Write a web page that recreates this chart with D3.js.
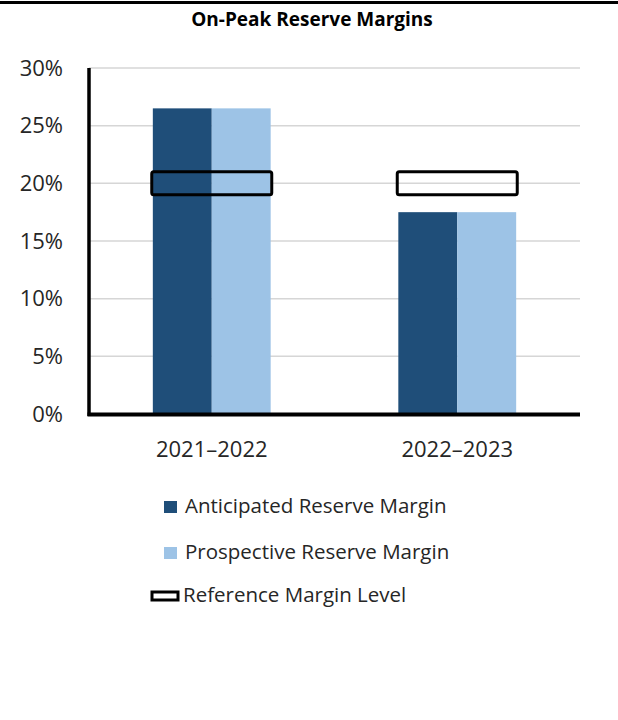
<!DOCTYPE html>
<html>
<head>
<meta charset="utf-8">
<script src="https://cdn.jsdelivr.net/npm/d3@7"></script>
<style>
  body { margin: 0; background: #fff; }
  svg { display: block; }
  svg text { font-family: "Open Sans", sans-serif; }
</style>
</head>
<body>
<svg id="chart" width="618" height="720"></svg>
<script>
var years = ['2021\u20132022', '2022\u20132023'];
var anticipated = [26.5, 17.5];
var prospective = [26.5, 17.5];
var referenceLevel = [20, 20];
var yTicks = [0, 5, 10, 15, 20, 25, 30];
var seriesNames = ['Anticipated Reserve Margin', 'Prospective Reserve Margin', 'Reference Margin Level'];

var dark = '#1f4e79', light = '#9dc3e6', textColor = '#262626';

var svg = d3.select('#chart');
var plotLeft = 89, plotRight = 580, plotTop = 68, plotBottom = 414;

var x = d3.scaleBand().domain(years).range([plotLeft, plotRight]).padding(0);
var y = d3.scaleLinear().domain([0, 30]).range([plotBottom, plotTop]);
var barW = x.bandwidth() * 0.24;

// top rule
svg.append('line')
    .attr('x1', 0).attr('x2', 618).attr('y1', 2.5).attr('y2', 2.5)
    .attr('stroke', '#000').attr('stroke-width', 3);

svg.append('text')
    .attr('x', 312).attr('y', 26)
    .attr('text-anchor', 'middle')
    .attr('font-weight', 'bold')
    .attr('font-size', 19)
    .attr('fill', '#000')
    .text('On-Peak Reserve Margins');

// gridlines
svg.append('g')
    .selectAll('line')
    .data(yTicks.filter(d => d > 0))
    .enter().append('line')
    .attr('x1', plotLeft).attr('x2', plotRight)
    .attr('y1', d => y(d)).attr('y2', d => y(d))
    .attr('stroke', '#d6d6d6').attr('stroke-width', 1.5);

// y axis labels
svg.append('g')
    .attr('transform', 'translate(' + plotLeft + ',0)')
    .call(d3.axisLeft(y).tickValues(yTicks).tickFormat(d => d + '%').tickSize(0).tickPadding(26))
    .call(g => {
        g.select('.domain').remove()
        g.attr('font-family', null).attr('font-size', 22)
        g.selectAll('text').attr('fill', textColor)
    });

// bars
var groups = svg.append('g').selectAll('g')
    .data(years)
    .enter().append('g');

groups.append('rect')
    .attr('x', (d) => x(d) + x.bandwidth() / 2 - barW)
    .attr('y', (d, i) => y(anticipated[i]))
    .attr('width', barW)
    .attr('height', (d, i) => y(0) - y(anticipated[i]))
    .attr('fill', dark);

groups.append('rect')
    .attr('x', (d) => x(d) + x.bandwidth() / 2)
    .attr('y', (d, i) => y(prospective[i]))
    .attr('width', barW)
    .attr('height', (d, i) => y(0) - y(prospective[i]))
    .attr('fill', light);

// reference level markers
groups.append('rect')
    .attr('x', (d) => x(d) + x.bandwidth() / 2 - 60)
    .attr('y', (d, i) => y(referenceLevel[i]) - 11.5)
    .attr('width', 120)
    .attr('height', 23)
    .attr('rx', 2)
    .attr('fill', 'none')
    .attr('stroke', '#000')
    .attr('stroke-width', 3);

// axes lines
svg.append('line')
    .attr('x1', plotLeft).attr('x2', plotLeft).attr('y1', plotTop).attr('y2', plotBottom + 2)
    .attr('stroke', '#000').attr('stroke-width', 3.5);
svg.append('line')
    .attr('x1', plotLeft - 1.5).attr('x2', plotRight).attr('y1', plotBottom + 0.5).attr('y2', plotBottom + 0.5)
    .attr('stroke', '#000').attr('stroke-width', 4);

// category labels
svg.append('g')
    .attr('transform', 'translate(0,' + plotBottom + ')')
    .call(d3.axisBottom(x).tickSize(0).tickPadding(27))
    .call(g => {
        g.select('.domain').remove()
        g.attr('font-family', null).attr('font-size', 22)
        g.selectAll('text').attr('fill', textColor)
    });

// legend
var legend = svg.append('g');
var rows = [
    {name: seriesNames[0], y: 507},
    {name: seriesNames[1], y: 553},
    {name: seriesNames[2], y: 596}
];
legend.append('rect').attr('x', 164).attr('y', rows[0].y - 6).attr('width', 13).attr('height', 12).attr('fill', dark);
legend.append('rect').attr('x', 164).attr('y', rows[1].y - 6).attr('width', 13).attr('height', 12).attr('fill', light);
legend.append('rect').attr('x', 152).attr('y', rows[2].y - 4).attr('width', 26).attr('height', 8)
    .attr('fill', 'none').attr('stroke', '#000').attr('stroke-width', 3);
legend.selectAll('text')
    .data(rows)
    .enter().append('text')
    .attr('x', (d, i) => i === 2 ? 183 : 185)
    .attr('y', d => d.y + 6)
    .attr('font-size', 20.5)
    .attr('fill', textColor)
    .text(d => d.name);
</script>
</body>
</html>
